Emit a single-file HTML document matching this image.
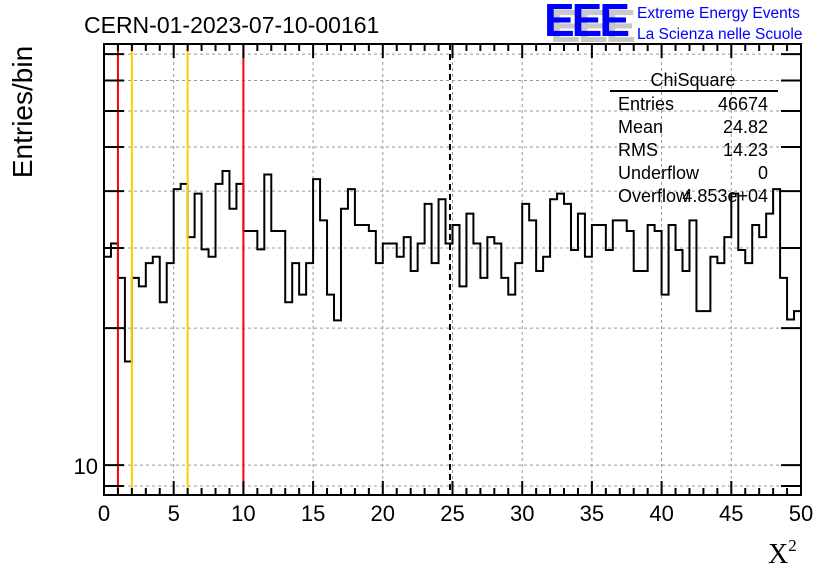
<!DOCTYPE html>
<html><head><meta charset="utf-8"><style>
body{margin:0;background:#fff;}
svg{display:block;font-family:"Liberation Sans",sans-serif;}
</style></head><body>
<svg id="c" width="836" height="572">
<rect x="0" y="0" width="836" height="572" fill="#fff"/>
<g id="grid"></g>
<g id="marks"></g>
<g id="axes"></g>
<text x="84" y="33" font-size="23">CERN-01-2023-07-10-00161</text>
<g>
<text x="550" y="42" font-size="46" font-weight="bold" fill="#c8c8c8" letter-spacing="-3">EEE</text>
<text x="544" y="36" font-size="46" font-weight="bold" fill="#0000ff" letter-spacing="-3">EEE</text>
<text x="637" y="18" font-size="15.5" fill="#0000ff">Extreme Energy Events</text>
<text x="637" y="39" font-size="15.5" fill="#0000ff">La Scienza nelle Scuole</text>
</g>
<text transform="translate(32,112) rotate(-90)" text-anchor="middle" font-size="28">Entries/bin</text>
<text x="768" y="563" font-size="28" font-family="Liberation Serif,serif">X<tspan font-size="17" dy="-12">2</tspan></text>
<g font-size="18">
<text x="693" y="86" text-anchor="middle">ChiSquare</text>
<line x1="610" y1="91" x2="778" y2="91" stroke="#000" stroke-width="2"/>
<text x="618" y="110">Entries</text><text x="768" y="110" text-anchor="end">46674</text>
<text x="618" y="133">Mean</text><text x="768" y="133" text-anchor="end">24.82</text>
<text x="618" y="156">RMS</text><text x="768" y="156" text-anchor="end">14.23</text>
<text x="618" y="179">Underflow</text><text x="768" y="179" text-anchor="end">0</text>
<text x="618" y="202">Overflow</text><text x="768" y="202" text-anchor="end">4.853e+04</text>
</g>
</svg>
<script>
const counts=[28.7,30.7,25.8,16.9,25.8,24.7,27.8,28.7,22.8,27.8,
40.4,41.5,31.7,39.5,29.8,28.7,41.5,44.3,36.6,41.5,
32.7,32.7,29.8,43.5,32.7,32.7,22.8,27.8,23.7,27.8,
42.5,34.5,23.7,20.8,36.6,40.4,33.7,33.7,32.7,27.8,
30.7,30.7,28.7,31.7,26.7,30.7,37.5,27.8,38.4,30.7,
33.7,24.7,35.7,30.7,25.8,31.7,30.7,25.8,23.7,27.8,
37.5,34.5,26.7,28.7,38.4,39.5,37.5,29.7,35.7,28.7,
33.7,33.7,29.7,34.5,34.5,32.7,26.7,26.7,33.7,32.7,
23.7,33.7,29.7,26.7,34.5,21.8,21.8,28.7,27.8,31.7,
39.5,29.7,27.8,33.7,31.7,35.7,40.4,25.8,20.9,21.8];
const xMin=0,xMax=50;
const yMin=8.6,yMax=84.2;
const xTicks=[0,5,10,15,20,25,30,35,40,45,50];
const yGridVals=[9,10,20,30,40,50,60,70,80];
const yLabels=[10];
const redCuts=[1,10];
const yellowCuts=[2,6];
const meanLine=[24.82];
const L=104,R=801,T=44,B=495;
const X=v=>L+(v-xMin)/(xMax-xMin)*(R-L);
const Y=v=>B-(Math.log10(v)-Math.log10(yMin))/(Math.log10(yMax)-Math.log10(yMin))*(B-T);
const NS='http://www.w3.org/2000/svg';
function mk(p,tag,at){const e=document.createElementNS(NS,tag);for(const k in at)e.setAttribute(k,at[k]);p.appendChild(e);return e;}
const grid=document.getElementById('grid'),marks=document.getElementById('marks'),axes=document.getElementById('axes');
xTicks.forEach(t=>{if(t>xMin&&t<xMax){const l=mk(grid,'line',{x1:X(t),x2:X(t),y1:T,y2:B,stroke:'#999','stroke-dasharray':'3,3'});

}});
yGridVals.forEach(v=>{const l=mk(grid,'line',{x1:L,x2:R,y1:Y(v),y2:Y(v),stroke:'#999','stroke-dasharray':'3,3'});

});
const bw=(xMax-xMin)/counts.length;
let d='M'+X(xMin)+','+Y(counts[0]);
counts.forEach((c,i)=>{const y=Y(c);d+=' L'+X(xMin+i*bw)+','+y+' L'+X(xMin+(i+1)*bw)+','+y;});
const h=mk(marks,'path',{d:d,fill:'none',stroke:'#000','stroke-width':2});


function vline(v,col,name,dash){const l=mk(marks,'line',{x1:X(v),x2:X(v),y1:T,y2:B,stroke:col,'stroke-width':2});if(dash)l.setAttribute('stroke-dasharray',dash);

}
redCuts.forEach(v=>vline(v,'#ff0000','red-cut-line'));
yellowCuts.forEach(v=>vline(v,'#ffcc00','yellow-cut-line'));
meanLine.forEach(v=>vline(v,'#000','mean-dashed-line','6,4'));
const fr=mk(axes,'rect',{x:L,y:T,width:R-L,height:B-T,fill:'none',stroke:'#000','stroke-width':2});


for(let t=xMin;t<=xMax;t++){const major=t%5===0;const len=major?14:7;
mk(axes,'line',{x1:X(t),x2:X(t),y1:B,y2:B-len,stroke:'#000','stroke-width':2});
mk(axes,'line',{x1:X(t),x2:X(t),y1:T,y2:T+len,stroke:'#000','stroke-width':2});}
xTicks.forEach(t=>{const tx=mk(axes,'text',{x:X(t),y:B+26,'text-anchor':'middle','font-size':22});tx.textContent=t;

});
yGridVals.forEach(v=>{mk(axes,'line',{x1:L,x2:L+20,y1:Y(v),y2:Y(v),stroke:'#000','stroke-width':2});
mk(axes,'line',{x1:R,x2:R-20,y1:Y(v),y2:Y(v),stroke:'#000','stroke-width':2});});
yLabels.forEach(v=>{const tx=mk(axes,'text',{x:L-6,y:Y(v)+9,'text-anchor':'end','font-size':22});tx.textContent=v;

});
</script>
</body></html>
